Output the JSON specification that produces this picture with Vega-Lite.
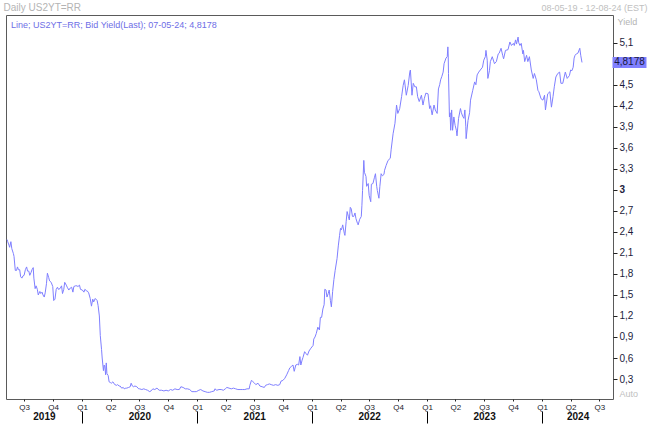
{
"$schema": "https://vega.github.io/schema/vega-lite/v6.json",
"width": 607, "height": 384,
"autosize": {"type": "none"},
"padding": {"left": 6, "top": 15, "right": 39, "bottom": 41},
"background": "white",
"config": {"view": {"stroke": "#5a5a5a", "strokeWidth": 1}, "axis": {"labelFont": "Liberation Sans", "titleFont": "Liberation Sans", "grid": false}},
"datasets": {
"yields": [
{"date":"2019-05-08","value":2.29},{"date":"2019-05-10","value":2.26},{"date":"2019-05-14","value":2.21},{"date":"2019-05-16","value":2.18},{"date":"2019-05-20","value":2.26},{"date":"2019-05-23","value":2.16},{"date":"2019-05-28","value":2.09},{"date":"2019-05-30","value":2.05},{"date":"2019-06-03","value":1.85},{"date":"2019-06-07","value":1.85},{"date":"2019-06-10","value":1.90},{"date":"2019-06-13","value":1.86},{"date":"2019-06-17","value":1.86},{"date":"2019-06-20","value":1.76},{"date":"2019-06-24","value":1.74},{"date":"2019-06-27","value":1.77},{"date":"2019-07-01","value":1.78},{"date":"2019-07-05","value":1.86},{"date":"2019-07-09","value":1.90},{"date":"2019-07-12","value":1.84},{"date":"2019-07-16","value":1.84},{"date":"2019-07-19","value":1.78},{"date":"2019-07-23","value":1.82},{"date":"2019-07-26","value":1.86},{"date":"2019-07-30","value":1.89},{"date":"2019-08-01","value":1.74},{"date":"2019-08-05","value":1.59},{"date":"2019-08-08","value":1.63},{"date":"2019-08-12","value":1.58},{"date":"2019-08-15","value":1.50},{"date":"2019-08-20","value":1.55},{"date":"2019-08-23","value":1.52},{"date":"2019-08-27","value":1.54},{"date":"2019-08-30","value":1.50},{"date":"2019-09-03","value":1.47},{"date":"2019-09-06","value":1.53},{"date":"2019-09-10","value":1.66},{"date":"2019-09-13","value":1.81},{"date":"2019-09-17","value":1.75},{"date":"2019-09-20","value":1.70},{"date":"2019-09-25","value":1.68},{"date":"2019-09-30","value":1.62},{"date":"2019-10-03","value":1.42},{"date":"2019-10-07","value":1.44},{"date":"2019-10-11","value":1.58},{"date":"2019-10-15","value":1.61},{"date":"2019-10-18","value":1.58},{"date":"2019-10-23","value":1.59},{"date":"2019-10-28","value":1.63},{"date":"2019-10-31","value":1.52},{"date":"2019-11-04","value":1.58},{"date":"2019-11-07","value":1.68},{"date":"2019-11-12","value":1.64},{"date":"2019-11-15","value":1.61},{"date":"2019-11-20","value":1.57},{"date":"2019-11-25","value":1.60},{"date":"2019-11-29","value":1.61},{"date":"2019-12-03","value":1.54},{"date":"2019-12-06","value":1.62},{"date":"2019-12-11","value":1.63},{"date":"2019-12-16","value":1.63},{"date":"2019-12-19","value":1.62},{"date":"2019-12-24","value":1.64},{"date":"2019-12-27","value":1.58},
{"date":"2020-01-02","value":1.57},{"date":"2020-01-07","value":1.54},{"date":"2020-01-10","value":1.58},{"date":"2020-01-15","value":1.56},{"date":"2020-01-17","value":1.56},{"date":"2020-01-22","value":1.53},{"date":"2020-01-27","value":1.45},{"date":"2020-01-31","value":1.34},{"date":"2020-02-04","value":1.44},{"date":"2020-02-07","value":1.40},{"date":"2020-02-12","value":1.45},{"date":"2020-02-18","value":1.42},{"date":"2020-02-21","value":1.35},{"date":"2020-02-25","value":1.20},{"date":"2020-02-28","value":0.92},{"date":"2020-03-03","value":0.72},{"date":"2020-03-05","value":0.60},{"date":"2020-03-09","value":0.42},{"date":"2020-03-11","value":0.50},{"date":"2020-03-13","value":0.49},{"date":"2020-03-16","value":0.36},{"date":"2020-03-18","value":0.53},{"date":"2020-03-20","value":0.38},{"date":"2020-03-24","value":0.35},{"date":"2020-03-27","value":0.26},{"date":"2020-03-31","value":0.25},{"date":"2020-04-03","value":0.24},{"date":"2020-04-08","value":0.26},{"date":"2020-04-14","value":0.22},{"date":"2020-04-20","value":0.21},{"date":"2020-04-23","value":0.22},{"date":"2020-04-28","value":0.20},{"date":"2020-05-01","value":0.20},{"date":"2020-05-06","value":0.17},{"date":"2020-05-11","value":0.18},{"date":"2020-05-14","value":0.16},{"date":"2020-05-19","value":0.17},{"date":"2020-05-22","value":0.17},{"date":"2020-05-28","value":0.18},{"date":"2020-06-02","value":0.19},{"date":"2020-06-05","value":0.24},{"date":"2020-06-09","value":0.20},{"date":"2020-06-12","value":0.19},{"date":"2020-06-17","value":0.20},{"date":"2020-06-23","value":0.19},{"date":"2020-06-29","value":0.16},{"date":"2020-07-02","value":0.16},{"date":"2020-07-09","value":0.15},{"date":"2020-07-15","value":0.16},{"date":"2020-07-21","value":0.15},{"date":"2020-07-27","value":0.14},{"date":"2020-08-03","value":0.12},{"date":"2020-08-07","value":0.13},{"date":"2020-08-13","value":0.16},{"date":"2020-08-19","value":0.15},{"date":"2020-08-26","value":0.17},{"date":"2020-09-02","value":0.14},{"date":"2020-09-10","value":0.14},{"date":"2020-09-17","value":0.13},{"date":"2020-09-24","value":0.14},{"date":"2020-10-01","value":0.13},{"date":"2020-10-08","value":0.15},{"date":"2020-10-15","value":0.14},{"date":"2020-10-22","value":0.16},{"date":"2020-10-29","value":0.15},{"date":"2020-11-05","value":0.15},{"date":"2020-11-10","value":0.19},{"date":"2020-11-17","value":0.18},{"date":"2020-11-24","value":0.16},{"date":"2020-12-01","value":0.16},{"date":"2020-12-08","value":0.15},{"date":"2020-12-15","value":0.12},{"date":"2020-12-22","value":0.12},{"date":"2020-12-29","value":0.12},
{"date":"2021-01-06","value":0.14},{"date":"2021-01-12","value":0.15},{"date":"2021-01-19","value":0.13},{"date":"2021-01-26","value":0.12},{"date":"2021-02-02","value":0.11},{"date":"2021-02-09","value":0.11},{"date":"2021-02-16","value":0.12},{"date":"2021-02-24","value":0.13},{"date":"2021-02-26","value":0.16},{"date":"2021-03-04","value":0.14},{"date":"2021-03-11","value":0.15},{"date":"2021-03-18","value":0.15},{"date":"2021-03-25","value":0.14},{"date":"2021-03-31","value":0.16},{"date":"2021-04-05","value":0.18},{"date":"2021-04-12","value":0.17},{"date":"2021-04-19","value":0.16},{"date":"2021-04-26","value":0.17},{"date":"2021-05-03","value":0.16},{"date":"2021-05-10","value":0.15},{"date":"2021-05-17","value":0.15},{"date":"2021-05-24","value":0.15},{"date":"2021-06-01","value":0.15},{"date":"2021-06-08","value":0.16},{"date":"2021-06-15","value":0.16},{"date":"2021-06-17","value":0.21},{"date":"2021-06-22","value":0.28},{"date":"2021-06-25","value":0.27},{"date":"2021-06-30","value":0.25},{"date":"2021-07-06","value":0.22},{"date":"2021-07-13","value":0.24},{"date":"2021-07-19","value":0.20},{"date":"2021-07-26","value":0.19},{"date":"2021-08-02","value":0.18},{"date":"2021-08-06","value":0.21},{"date":"2021-08-12","value":0.22},{"date":"2021-08-18","value":0.23},{"date":"2021-08-24","value":0.22},{"date":"2021-08-31","value":0.21},{"date":"2021-09-07","value":0.22},{"date":"2021-09-14","value":0.21},{"date":"2021-09-20","value":0.22},{"date":"2021-09-24","value":0.27},{"date":"2021-09-30","value":0.28},{"date":"2021-10-06","value":0.31},{"date":"2021-10-12","value":0.36},{"date":"2021-10-18","value":0.42},{"date":"2021-10-22","value":0.46},{"date":"2021-10-27","value":0.48},{"date":"2021-11-01","value":0.50},{"date":"2021-11-05","value":0.41},{"date":"2021-11-10","value":0.50},{"date":"2021-11-15","value":0.51},{"date":"2021-11-19","value":0.50},{"date":"2021-11-23","value":0.62},{"date":"2021-11-26","value":0.50},{"date":"2021-11-30","value":0.57},{"date":"2021-12-03","value":0.61},{"date":"2021-12-08","value":0.69},{"date":"2021-12-13","value":0.66},{"date":"2021-12-17","value":0.64},{"date":"2021-12-22","value":0.70},{"date":"2021-12-28","value":0.74},
{"date":"2022-01-04","value":0.78},{"date":"2022-01-06","value":0.87},{"date":"2022-01-10","value":0.90},{"date":"2022-01-14","value":0.95},{"date":"2022-01-19","value":1.04},{"date":"2022-01-24","value":1.00},{"date":"2022-01-27","value":1.18},{"date":"2022-01-31","value":1.18},{"date":"2022-02-04","value":1.30},{"date":"2022-02-08","value":1.36},{"date":"2022-02-10","value":1.58},{"date":"2022-02-14","value":1.57},{"date":"2022-02-17","value":1.47},{"date":"2022-02-21","value":1.52},{"date":"2022-02-24","value":1.57},{"date":"2022-02-28","value":1.42},{"date":"2022-03-03","value":1.33},{"date":"2022-03-07","value":1.55},{"date":"2022-03-11","value":1.72},{"date":"2022-03-15","value":1.85},{"date":"2022-03-21","value":2.02},{"date":"2022-03-25","value":2.20},{"date":"2022-03-29","value":2.35},{"date":"2022-04-01","value":2.45},{"date":"2022-04-04","value":2.43},{"date":"2022-04-08","value":2.50},{"date":"2022-04-13","value":2.38},{"date":"2022-04-15","value":2.35},{"date":"2022-04-19","value":2.55},{"date":"2022-04-22","value":2.69},{"date":"2022-04-26","value":2.62},{"date":"2022-04-29","value":2.57},{"date":"2022-05-02","value":2.75},{"date":"2022-05-05","value":2.73},{"date":"2022-05-09","value":2.62},{"date":"2022-05-13","value":2.62},{"date":"2022-05-17","value":2.67},{"date":"2022-05-20","value":2.59},{"date":"2022-05-25","value":2.52},{"date":"2022-05-27","value":2.50},{"date":"2022-06-01","value":2.58},{"date":"2022-06-06","value":2.62},{"date":"2022-06-08","value":2.78},{"date":"2022-06-10","value":2.99},{"date":"2022-06-14","value":3.42},{"date":"2022-06-16","value":3.25},{"date":"2022-06-21","value":3.19},{"date":"2022-06-23","value":3.05},{"date":"2022-06-28","value":3.09},{"date":"2022-07-01","value":2.92},{"date":"2022-07-06","value":2.83},{"date":"2022-07-08","value":3.08},{"date":"2022-07-13","value":3.09},{"date":"2022-07-18","value":3.18},{"date":"2022-07-21","value":3.23},{"date":"2022-07-25","value":3.05},{"date":"2022-07-27","value":2.99},{"date":"2022-08-01","value":2.88},{"date":"2022-08-04","value":3.05},{"date":"2022-08-08","value":3.23},{"date":"2022-08-12","value":3.20},{"date":"2022-08-17","value":3.22},{"date":"2022-08-19","value":3.28},{"date":"2022-08-24","value":3.35},{"date":"2022-08-30","value":3.42},{"date":"2022-09-06","value":3.45},{"date":"2022-09-09","value":3.58},{"date":"2022-09-15","value":3.80},{"date":"2022-09-21","value":3.95},{"date":"2022-09-26","value":4.21},{"date":"2022-09-30","value":4.09},{"date":"2022-10-06","value":4.16},{"date":"2022-10-12","value":4.33},{"date":"2022-10-17","value":4.49},{"date":"2022-10-21","value":4.57},{"date":"2022-10-27","value":4.35},{"date":"2022-11-02","value":4.49},{"date":"2022-11-07","value":4.68},{"date":"2022-11-09","value":4.71},{"date":"2022-11-14","value":4.35},{"date":"2022-11-18","value":4.52},{"date":"2022-11-23","value":4.47},{"date":"2022-11-28","value":4.47},{"date":"2022-12-02","value":4.33},{"date":"2022-12-07","value":4.26},{"date":"2022-12-14","value":4.35},{"date":"2022-12-19","value":4.21},{"date":"2022-12-23","value":4.30},{"date":"2022-12-28","value":4.38},
{"date":"2023-01-04","value":4.37},{"date":"2023-01-09","value":4.16},{"date":"2023-01-12","value":4.20},{"date":"2023-01-17","value":4.07},{"date":"2023-01-23","value":4.21},{"date":"2023-01-27","value":4.14},{"date":"2023-02-02","value":4.09},{"date":"2023-02-06","value":4.44},{"date":"2023-02-10","value":4.50},{"date":"2023-02-13","value":4.57},{"date":"2023-02-17","value":4.62},{"date":"2023-02-21","value":4.68},{"date":"2023-02-24","value":4.80},{"date":"2023-03-02","value":4.88},{"date":"2023-03-06","value":4.90},{"date":"2023-03-08","value":5.04},{"date":"2023-03-09","value":4.94},{"date":"2023-03-10","value":4.66},{"date":"2023-03-13","value":4.04},{"date":"2023-03-15","value":4.10},{"date":"2023-03-17","value":3.85},{"date":"2023-03-20","value":4.14},{"date":"2023-03-23","value":3.85},{"date":"2023-03-27","value":4.04},{"date":"2023-03-31","value":3.92},{"date":"2023-04-04","value":3.85},{"date":"2023-04-06","value":3.77},{"date":"2023-04-11","value":4.02},{"date":"2023-04-17","value":4.16},{"date":"2023-04-20","value":4.10},{"date":"2023-04-24","value":4.05},{"date":"2023-04-28","value":4.02},{"date":"2023-05-01","value":4.14},{"date":"2023-05-04","value":3.90},{"date":"2023-05-05","value":3.73},{"date":"2023-05-11","value":3.99},{"date":"2023-05-16","value":4.10},{"date":"2023-05-19","value":4.28},{"date":"2023-05-26","value":4.42},{"date":"2023-06-01","value":4.54},{"date":"2023-06-05","value":4.50},{"date":"2023-06-09","value":4.64},{"date":"2023-06-14","value":4.68},{"date":"2023-06-19","value":4.71},{"date":"2023-06-26","value":4.75},{"date":"2023-06-30","value":4.85},{"date":"2023-07-05","value":4.90},{"date":"2023-07-07","value":4.99},{"date":"2023-07-11","value":4.85},{"date":"2023-07-13","value":4.59},{"date":"2023-07-18","value":4.70},{"date":"2023-07-21","value":4.83},{"date":"2023-07-27","value":4.90},{"date":"2023-08-03","value":4.80},{"date":"2023-08-09","value":4.83},{"date":"2023-08-15","value":4.94},{"date":"2023-08-18","value":4.95},{"date":"2023-08-24","value":5.02},{"date":"2023-08-29","value":4.92},{"date":"2023-09-01","value":4.87},{"date":"2023-09-07","value":4.99},{"date":"2023-09-15","value":5.00},{"date":"2023-09-21","value":5.11},{"date":"2023-09-26","value":5.06},{"date":"2023-10-02","value":5.09},{"date":"2023-10-05","value":5.06},{"date":"2023-10-09","value":5.14},{"date":"2023-10-12","value":5.08},{"date":"2023-10-17","value":5.18},{"date":"2023-10-19","value":5.10},{"date":"2023-10-23","value":5.06},{"date":"2023-10-27","value":5.09},{"date":"2023-11-01","value":4.94},{"date":"2023-11-03","value":4.99},{"date":"2023-11-07","value":4.83},{"date":"2023-11-13","value":4.92},{"date":"2023-11-17","value":4.83},{"date":"2023-11-22","value":4.90},{"date":"2023-11-28","value":4.71},{"date":"2023-12-04","value":4.59},{"date":"2023-12-08","value":4.66},{"date":"2023-12-14","value":4.57},{"date":"2023-12-19","value":4.42},{"date":"2023-12-22","value":4.40},{"date":"2023-12-29","value":4.30},
{"date":"2024-01-04","value":4.28},{"date":"2024-01-09","value":4.35},{"date":"2024-01-12","value":4.14},{"date":"2024-01-19","value":4.37},{"date":"2024-01-26","value":4.40},{"date":"2024-01-31","value":4.18},{"date":"2024-02-05","value":4.33},{"date":"2024-02-09","value":4.47},{"date":"2024-02-14","value":4.61},{"date":"2024-02-20","value":4.66},{"date":"2024-02-26","value":4.68},{"date":"2024-03-01","value":4.52},{"date":"2024-03-07","value":4.52},{"date":"2024-03-15","value":4.68},{"date":"2024-03-21","value":4.59},{"date":"2024-03-28","value":4.63},{"date":"2024-04-01","value":4.71},{"date":"2024-04-05","value":4.70},{"date":"2024-04-09","value":4.75},{"date":"2024-04-12","value":4.88},{"date":"2024-04-15","value":4.92},{"date":"2024-04-19","value":4.94},{"date":"2024-04-24","value":4.95},{"date":"2024-04-30","value":5.02},{"date":"2024-05-03","value":4.92},{"date":"2024-05-07","value":4.8178}
],
"last": [{"date": "2024-05-07", "value": 4.8178, "label": "4,8178"}]
},
"layer": [
{
"data": {"name": "yields"},
"mark": {"type": "line", "strokeWidth": 1, "interpolate": "linear"},
"encoding": {
"x": {"field": "date", "type": "temporal",
"scale": {"domain": [{"year": 2019, "month": 5, "date": 4, "hours": 12, "utc": true}, {"year": 2024, "month": 8, "date": 13, "hours": 12, "utc": true}]},
"axis": {"orient": "bottom",
"values": [{"year": 2019, "month": 7, "date": 1, "utc": true}, {"year": 2019, "month": 10, "date": 1, "utc": true}, {"year": 2020, "month": 1, "date": 1, "utc": true}, {"year": 2020, "month": 4, "date": 1, "utc": true}, {"year": 2020, "month": 7, "date": 1, "utc": true}, {"year": 2020, "month": 10, "date": 1, "utc": true}, {"year": 2021, "month": 1, "date": 1, "utc": true}, {"year": 2021, "month": 4, "date": 1, "utc": true}, {"year": 2021, "month": 7, "date": 1, "utc": true}, {"year": 2021, "month": 10, "date": 1, "utc": true}, {"year": 2022, "month": 1, "date": 1, "utc": true}, {"year": 2022, "month": 4, "date": 1, "utc": true}, {"year": 2022, "month": 7, "date": 1, "utc": true}, {"year": 2022, "month": 10, "date": 1, "utc": true}, {"year": 2023, "month": 1, "date": 1, "utc": true}, {"year": 2023, "month": 4, "date": 1, "utc": true}, {"year": 2023, "month": 7, "date": 1, "utc": true}, {"year": 2023, "month": 10, "date": 1, "utc": true}, {"year": 2024, "month": 1, "date": 1, "utc": true}, {"year": 2024, "month": 4, "date": 1, "utc": true}, {"year": 2024, "month": 7, "date": 1, "utc": true}],
"labelExpr": "'Q' + utcquarter(datum.value)",
"tickSize": 2, "tickColor": "#222222", "labelPadding": 2, "labelFontSize": 8, "labelColor": "#1c1c2c",
"domain": false, "labelFlush": false, "labelOverlap": false,
"title": "Auto", "titleX": 613, "titleY": -6, "titleAlign": "left", "titleBaseline": "middle", "titleFontSize": 9, "titleFontWeight": "normal", "titleColor": "#c0c0c0"}},
"y": {"field": "value", "type": "quantitative",
"scale": {"domain": [0.015, 5.495], "nice": false, "zero": false},
"axis": {"orient": "right",
"values": [0.3, 0.6, 0.9, 1.2, 1.5, 1.8, 2.1, 2.4, 2.7, 3, 3.3, 3.6, 3.9, 4.2, 4.5, 5.1],
"labelExpr": "datum.value == 3 ? '3' : replace(format(datum.value, '.1f'), '.', ',')",
"labelFontWeight": {"condition": {"test": "datum.value == 3", "value": "bold"}, "value": "normal"},
"tickSize": 4, "tickColor": "#222222", "domain": false, "labelPadding": 2, "labelFontSize": 10, "labelColor": "#1c1c3c", "labelOverlap": false,
"title": "Yield", "titleAngle": 0, "titleX": 4, "titleY": 6, "titleAlign": "left", "titleBaseline": "middle", "titleFontSize": 9, "titleFontWeight": "normal", "titleColor": "#b4b4b4"}},
"color": {"datum": "Line; US2YT=RR; Bid Yield(Last); 07-05-24; 4,8178",
"scale": {"range": ["#7f7fff"]},
"legend": {"orient": "none", "legendX": -4, "legendY": 5, "title": null, "padding": 0, "symbolSize": 0, "symbolStrokeWidth": 0, "symbolOpacity": 0, "labelOffset": 0, "labelFont": "Liberation Sans", "labelFontSize": 9, "labelColor": "#6e6ee6", "labelLimit": 400}}
}
},
{
"data": {"name": "last"},
"mark": {"type": "point", "shape": "M-1,-0.324L1,-0.324L1,0.324L-1,0.324Z", "filled": true, "size": 1156, "color": "#8080ff", "opacity": 1, "strokeWidth": 0, "xOffset": 47.5},
"encoding": {
"x": {"field": "date", "type": "temporal",
"axis": {"orient": "bottom",
"values": [{"year": 2019, "month": 9, "date": 2, "utc": true}, {"year": 2020, "month": 7, "date": 1, "utc": true}, {"year": 2021, "month": 7, "date": 1, "utc": true}, {"year": 2022, "month": 7, "date": 1, "utc": true}, {"year": 2023, "month": 7, "date": 1, "utc": true}, {"year": 2024, "month": 4, "date": 23, "utc": true}],
"labelExpr": "'' + utcyear(datum.value)",
"ticks": false, "tickSize": 0, "domain": false, "labelPadding": 12, "labelFontSize": 10, "labelFontWeight": "bold", "labelColor": "#111111", "labelFlush": false, "labelOverlap": false,
"title": "08-05-19 - 12-08-24 (EST)", "titleX": 641, "titleY": -392, "titleAlign": "right", "titleBaseline": "middle", "titleFontSize": 9, "titleFontWeight": "normal", "titleColor": "#c0c0c0"}},
"y": {"field": "value", "type": "quantitative", "axis": null}
}
},
{
"data": {"name": "last"},
"mark": {"type": "text", "font": "Liberation Sans", "fontSize": 10, "color": "#1a1a40", "align": "center", "baseline": "middle", "xOffset": 47.5},
"encoding": {
"x": {"field": "date", "type": "temporal",
"axis": {"orient": "bottom",
"values": [{"year": 2020, "month": 1, "date": 1, "utc": true}, {"year": 2021, "month": 1, "date": 1, "utc": true}, {"year": 2022, "month": 1, "date": 1, "utc": true}, {"year": 2023, "month": 1, "date": 1, "utc": true}, {"year": 2024, "month": 1, "date": 1, "utc": true}],
"labels": false, "tickSize": 12, "tickColor": "#000000", "tickWidth": 1, "domain": false, "offset": 12,
"title": "Daily US2YT=RR", "titleX": -3, "titleY": -403.5, "titleAlign": "left", "titleBaseline": "middle", "titleFontSize": 10, "titleFontWeight": "normal", "titleColor": "#b4b4b4"}},
"y": {"field": "value", "type": "quantitative", "axis": null},
"text": {"field": "label"}
}
}
],
"resolve": {"axis": {"x": "independent", "y": "independent"}}
}
